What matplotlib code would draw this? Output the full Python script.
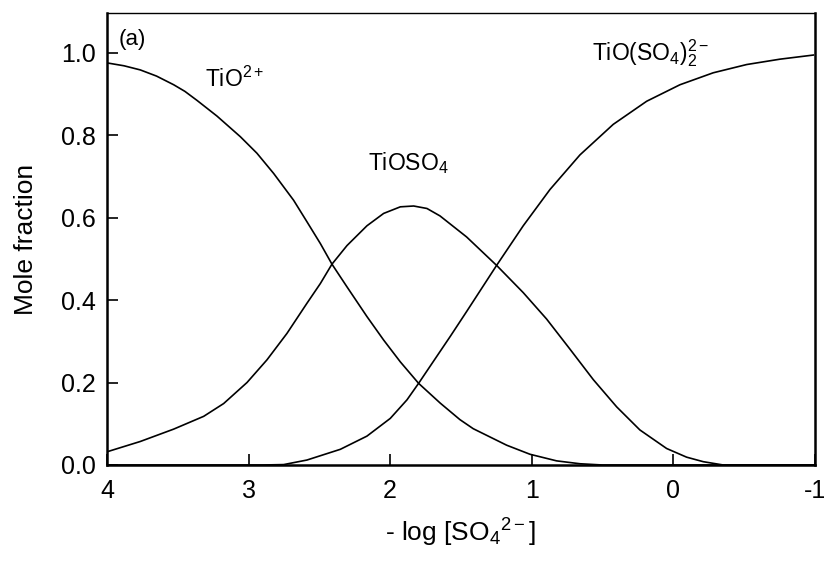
import matplotlib
matplotlib.use("Agg")
import matplotlib.pyplot as plt

plt.rcParams['font.family'] = ['Liberation Sans', 'DejaVu Sans']
plt.rcParams['mathtext.fontset'] = 'custom'
plt.rcParams['mathtext.rm'] = 'Liberation Sans'
plt.rcParams['mathtext.it'] = 'Liberation Sans'

# points: x = -log[SO4 2-], y = mole fraction
tio_x = [4.00, 3.88, 3.765, 3.65, 3.529, 3.45, 3.364, 3.223, 3.058, 2.941,
         2.823, 2.682, 2.588, 2.493, 2.411, 2.305, 2.164, 2.046, 1.928, 1.799,
         1.646, 1.507, 1.413, 1.177, 1.012, 0.824, 0.659, 0.50, -1.0]
tio_y = [0.975, 0.968, 0.958, 0.943, 0.922, 0.906, 0.884, 0.846, 0.796, 0.756,
         0.707, 0.642, 0.590, 0.537, 0.487, 0.432, 0.360, 0.303, 0.250, 0.198,
         0.150, 0.110, 0.088, 0.048, 0.026, 0.010, 0.003, 0.0, 0.0]

tioso4_x = [4.00, 3.765, 3.529, 3.317, 3.176, 3.011, 2.870, 2.729, 2.588, 2.493,
            2.411, 2.305, 2.164, 2.046, 1.928, 1.834, 1.740, 1.648, 1.460, 1.248,
            1.060, 0.895, 0.730, 0.565, 0.400, 0.236, 0.047, -0.094, -0.212,
            -0.353, -1.0]
tioso4_y = [0.032, 0.057, 0.087, 0.118, 0.149, 0.200, 0.255, 0.319, 0.392, 0.440,
            0.487, 0.532, 0.580, 0.610, 0.626, 0.628, 0.622, 0.604, 0.553, 0.484,
            0.418, 0.354, 0.281, 0.207, 0.141, 0.085, 0.040, 0.019, 0.008,
            0.0, 0.0]

tioso4_2_x = [4.00, 2.90, 2.752, 2.588, 2.352, 2.164, 1.999, 1.881, 1.799, 1.693,
              1.575, 1.460, 1.248, 1.060, 0.871, 0.659, 0.424, 0.188, -0.047,
              -0.282, -0.518, -0.753, -0.989]
tioso4_2_y = [0.0, 0.0, 0.001, 0.012, 0.038, 0.070, 0.113, 0.158, 0.198, 0.252,
              0.312, 0.372, 0.484, 0.580, 0.668, 0.752, 0.826, 0.882, 0.922,
              0.951, 0.971, 0.984, 0.994]

fig = plt.figure(figsize=(8.25, 5.65), dpi=100)
ax = fig.add_axes([0.1297, 0.177, 0.858, 0.8])

ax.plot(tio_x, tio_y, color='black', lw=1.2)
ax.plot(tioso4_x, tioso4_y, color='black', lw=1.2)
ax.plot(tioso4_2_x, tioso4_2_y, color='black', lw=1.2)

ax.set_xlim(4, -1)
ax.set_ylim(0, 1.096)
ax.set_xticks([4, 3, 2, 1, 0, -1])
ax.set_xticklabels(['4', '3', '2', '1', '0', '-1'])
ax.set_yticks([0, 0.2, 0.4, 0.6, 0.8, 1.0])
ax.set_yticklabels(['0.0', '0.2', '0.4', '0.6', '0.8', '1.0'])
ax.tick_params(direction='in', length=8, width=1.2, labelsize=18)
ax.tick_params(axis='x', pad=10)
ax.tick_params(axis='y', pad=8)

for side in ('left', 'bottom', 'right'):
    ax.spines[side].set_linewidth(1.8)
ax.spines['top'].set_linewidth(1.0)

ax.set_xlabel(r'- log [SO$_4$$^{2-}$]', fontsize=19)
ax.set_ylabel('Mole fraction', fontsize=19)
ax.xaxis.set_label_coords(0.5, -0.115)
ax.yaxis.set_label_coords(-0.097, 0.5)

ax.text(3.92, 1.018, '(a)', fontsize=16, ha='left', va='baseline')
ax.text(3.31, 0.917, r'TiO$^{2+}$', fontsize=16.5, ha='left', va='baseline')
ax.text(2.157, 0.715, r'TiOSO$_4$', fontsize=16.5, ha='left', va='baseline')
ax.text(0.577, 0.982, r'TiO(SO$_4$)$_2^{2-}$', fontsize=16.5, ha='left', va='baseline')

fig.savefig('out.png', dpi=100)
